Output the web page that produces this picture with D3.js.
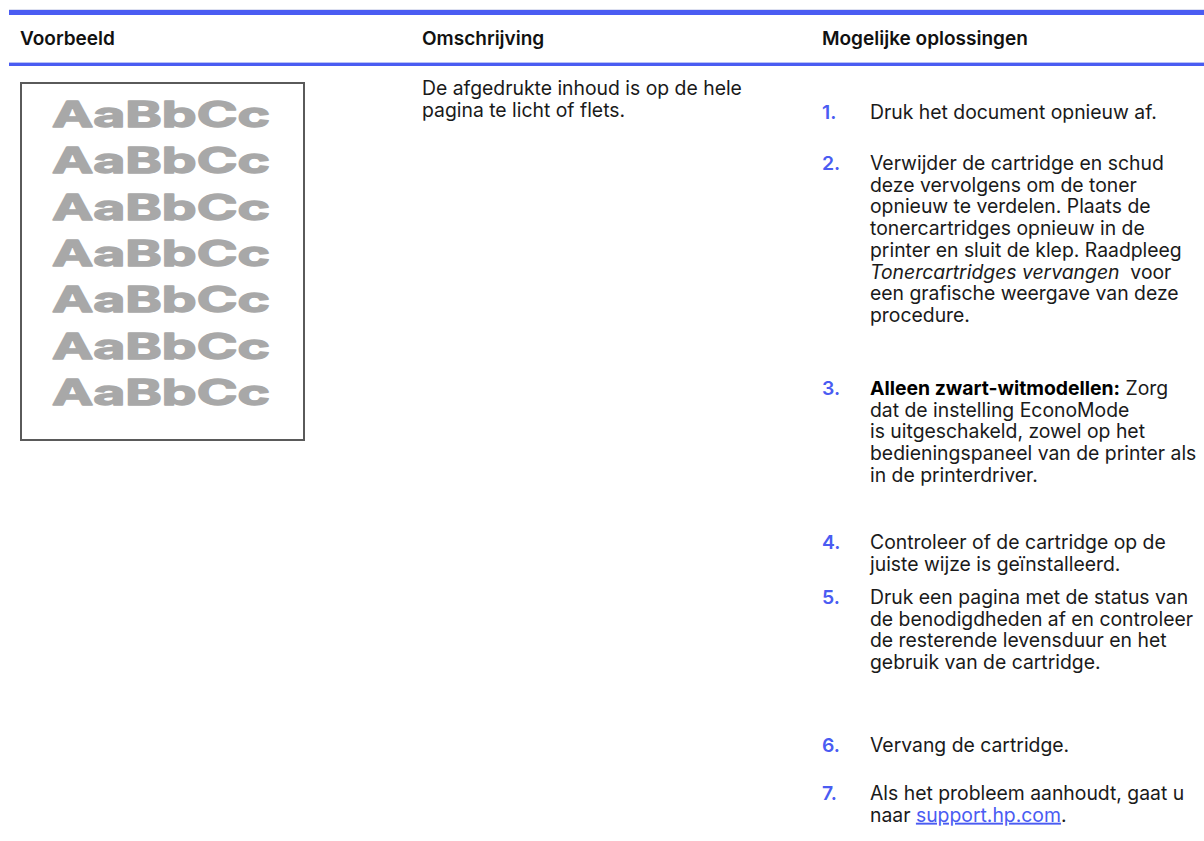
<!DOCTYPE html>
<html>
<head>
<meta charset="utf-8">
<script src="https://cdn.jsdelivr.net/npm/d3@7"></script>
<style>
  html, body { margin: 0; padding: 0; background: #fff; }
  svg { display: block; }
  text { font-family: Inter, "Noto Sans", sans-serif; white-space: pre; }
</style>
</head>
<body>
<script>
// ---------- content ----------
const headers = ["Voorbeeld", "Omschrijving", "Mogelijke oplossingen"];
const descriptionLines = ["De afgedrukte inhoud is op de hele", "pagina te licht of flets."];
const sampleText = "AaBbCc";
const sampleRowCount = 7;
const solutionNumbers = ["1.", "2.", "3.", "4.", "5.", "6.", "7."];
const solutionLines = [
  [[{t: "Druk het document opnieuw af."}]],
  [[{t: "Verwijder de cartridge en schud"}],
   [{t: "deze vervolgens om de toner"}],
   [{t: "opnieuw te verdelen. Plaats de"}],
   [{t: "tonercartridges opnieuw in de"}],
   [{t: "printer en sluit de klep. Raadpleeg"}],
   [{t: "Tonercartridges vervangen", s: "italic"}, {t: "  voor"}],
   [{t: "een grafische weergave van deze"}],
   [{t: "procedure."}]],
  [[{t: "Alleen zwart-witmodellen:", s: "bold"}, {t: " Zorg"}],
   [{t: "dat de instelling EconoMode"}],
   [{t: "is uitgeschakeld, zowel op het"}],
   [{t: "bedieningspaneel van de printer als"}],
   [{t: "in de printerdriver."}]],
  [[{t: "Controleer of de cartridge op de"}],
   [{t: "juiste wijze is geïnstalleerd."}]],
  [[{t: "Druk een pagina met de status van"}],
   [{t: "de benodigdheden af en controleer"}],
   [{t: "de resterende levensduur en het"}],
   [{t: "gebruik van de cartridge."}]],
  [[{t: "Vervang de cartridge."}]],
  [[{t: "Als het probleem aanhoudt, gaat u"}],
   [{t: "naar "}, {t: "support.hp.com", s: "link"}, {t: "."}]]
];

// ---------- layout ----------
const W = 1204, H = 841;
const blue = "#4a5cf2";
const colX = d3.scaleOrdinal().domain(headers).range([20, 422, 822]);
const numX = 822, textX = 870;
const lineH = 21.7;
const itemBaselines = [119, 170, 395, 549, 604, 752, 800];

const svg = d3.select("body").append("svg").attr("width", W).attr("height", H);

// fit font sizes by measuring a reference line
function fitSize(str, weight, target) {
  const t = svg.append("text").attr("font-size", 100).attr("font-weight", weight).text(str);
  const w = t.node().getComputedTextLength();
  t.remove();
  return 100 * target / w;
}
const bodySize = fitSize("Druk het document opnieuw af.", 400, 287);
const headSize = fitSize("Mogelijke oplossingen", 600, 206);

// rules
svg.append("rect").attr("x", 9).attr("y", 9).attr("width", W - 9).attr("height", 1).attr("fill", "#dde0f0");
svg.append("rect").attr("x", 9).attr("y", 10).attr("width", W - 9).attr("height", 5).attr("fill", blue);
svg.append("rect").attr("x", 9).attr("y", 62).attr("width", W - 9).attr("height", 1).attr("fill", "#b8c0f6");
svg.append("rect").attr("x", 9).attr("y", 63).attr("width", W - 9).attr("height", 3).attr("fill", blue);

// headers
svg.selectAll("text.head").data(headers).join("text")
  .attr("class", "head")
  .attr("x", d => colX(d)).attr("y", 45)
  .attr("font-size", headSize).attr("font-weight", 600).attr("fill", "#111")
  .text(d => d);

// sample image
const box = {x: 20, y: 82, w: 285, h: 359};
svg.append("rect").attr("x", box.x + 1).attr("y", box.y + 1).attr("width", box.w - 2).attr("height", box.h - 2)
  .attr("fill", "#fff").attr("stroke", "#5a5a5a").attr("stroke-width", 2);
const rowY = d3.scaleLinear().domain([0, sampleRowCount - 1]).range([127, 405]);
svg.selectAll("text.sample").data(d3.range(sampleRowCount)).join("text")
  .attr("class", "sample")
  .attr("x", 52).attr("y", i => rowY(i))
  .attr("font-family", "'Liberation Sans', Arial, sans-serif")
  .attr("font-weight", 700).attr("font-size", 35)
  .attr("textLength", 218).attr("lengthAdjust", "spacingAndGlyphs")
  .attr("fill", "#a8a8a8").attr("stroke", "#a8a8a8").attr("stroke-width", 1.4)
  .attr("stroke-linejoin", "round")
  .text(sampleText);

// description
svg.selectAll("text.desc").data(descriptionLines).join("text")
  .attr("class", "desc")
  .attr("x", colX(headers[1])).attr("y", (d, i) => 95 + i * lineH)
  .attr("font-size", bodySize).attr("fill", "#1a1a1a")
  .text(d => d);

// solutions
solutionLines.forEach((lines, i) => {
  const y0 = itemBaselines[i];
  svg.append("text")
    .attr("x", numX).attr("y", y0)
    .attr("font-size", bodySize).attr("font-weight", 600).attr("fill", blue)
    .text(solutionNumbers[i]);
  lines.forEach((segs, j) => {
    const t = svg.append("text")
      .attr("x", textX).attr("y", y0 + j * lineH)
      .attr("font-size", bodySize).attr("fill", "#1a1a1a");
    segs.forEach(sg => {
      const ts = t.append("tspan").text(sg.t);
      if (sg.s === "bold") ts.attr("font-weight", 700).attr("fill", "#000");
      if (sg.s === "italic") ts.attr("font-style", "italic");
      if (sg.s === "link") ts.attr("fill", blue).attr("text-decoration", "underline");
    });
  });
});
</script>
</body>
</html>
